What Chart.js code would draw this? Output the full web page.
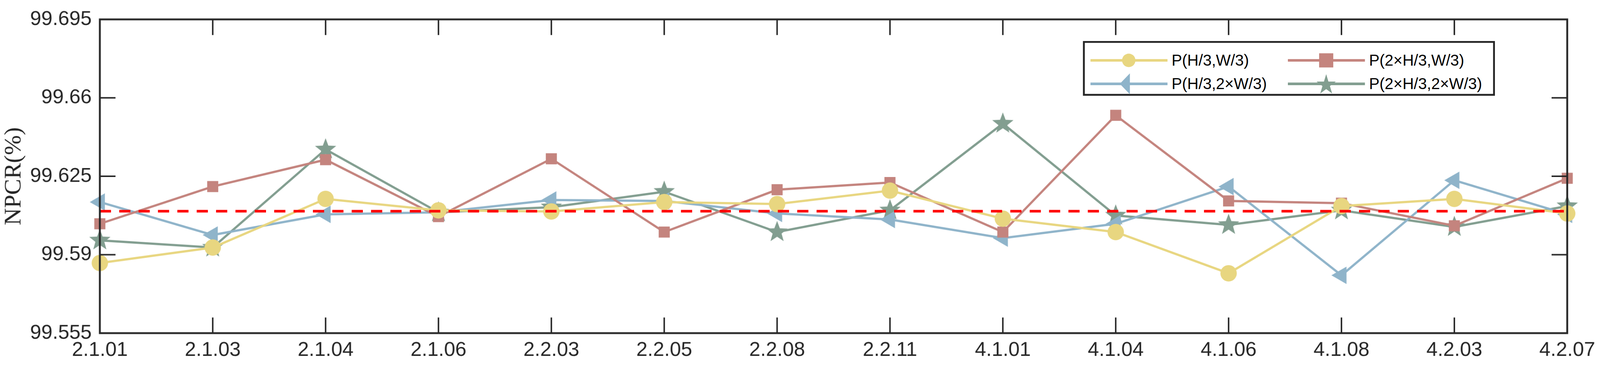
<!DOCTYPE html>
<html><head><meta charset="utf-8">
<script src="https://cdn.jsdelivr.net/npm/chart.js@4"></script>
<style>
html,body{margin:0;padding:0;background:#fff;overflow:hidden}
#wrap{position:relative;width:4295px;height:993px;transform-origin:0 0}
#c{width:4295px;height:993px;display:block}
#legend{position:absolute;left:2907px;top:110px;width:1096px;height:137px;border:5px solid #262626;background:#fff;font-family:"Liberation Sans Narrow","Liberation Sans",Arial,sans-serif;font-size:42px;color:#000}
.it{position:absolute;display:flex;align-items:center;height:60px;white-space:nowrap}
.it svg{margin-right:8px}
</style></head><body>
<div id="wrap"><canvas id="c" width="4295" height="993"></canvas>
<div id="legend"></div></div>
<script>
const categories=["2.1.01","2.1.03","2.1.04","2.1.06","2.2.03","2.2.05","2.2.08","2.2.11","4.1.01","4.1.04","4.1.06","4.1.08","4.2.03","4.2.07"];
const yTickLabels=["99.555","99.59","99.625","99.66","99.695"];
const seriesNames=["P(H/3,W/3)","P(2\u00d7H/3,W/3)","P(H/3,2\u00d7W/3)","P(2\u00d7H/3,2\u00d7W/3)"];
const pHW=[99.5863,99.5932,99.6149,99.6098,99.6093,99.6135,99.6126,99.6186,99.6061,99.6001,99.5817,99.6117,99.6149,99.6084];
const p2HW=[99.6038,99.6204,99.6324,99.6070,99.6328,99.6001,99.6190,99.6222,99.6001,99.6522,99.6140,99.6130,99.6029,99.6241];
const pH2W=[99.6135,99.5988,99.6080,99.6089,99.6144,99.6140,99.6084,99.6057,99.5974,99.6038,99.6204,99.5808,99.6232,99.6080];
const p2H2W=[99.5964,99.5932,99.6370,99.6089,99.6112,99.6181,99.6001,99.6098,99.6485,99.6075,99.6033,99.6098,99.6024,99.6117];
const ideal=99.6094;
const colors=["#E8D680","#C4847E","#8FB4CA","#829E90"];

const sc=Math.min(1,window.innerWidth/4295,window.innerHeight/993);
if(sc<0.999)document.getElementById('wrap').style.transform='scale('+sc+')';

function starImg(r,col){const c=document.createElement('canvas');c.width=c.height=r*2+2;const g=c.getContext('2d');g.fillStyle=col;g.beginPath();
for(let i=0;i<10;i++){const a=-Math.PI/2+i*Math.PI/5;const rr=i%2?r*0.42:r;g.lineTo(r+1+rr*Math.cos(a),r+1+rr*Math.sin(a));}g.closePath();g.fill();return c;}
const star=starImg(30,colors[3]);

const ds=(label,data,col,style,rad,rot)=>({label,data,borderColor:col,backgroundColor:col,pointBackgroundColor:col,pointBorderColor:col,borderWidth:6,pointStyle:style,pointRadius:rad,pointRotation:rot||0,pointBorderWidth:0,tension:0});
const inTicks={id:'inTicks',afterDraw(ch){const g=ch.ctx,a=ch.chartArea,x=ch.scales.x,y=ch.scales.y;g.save();g.strokeStyle='#262626';g.lineWidth=4;
g.beginPath();x.ticks.forEach((t,i)=>{const px=x.getPixelForTick(i);g.moveTo(px,a.bottom);g.lineTo(px,a.bottom-42);g.moveTo(px,a.top);g.lineTo(px,a.top+42);});
y.ticks.forEach((t,i)=>{const py=y.getPixelForTick(i);g.moveTo(a.left,py);g.lineTo(a.left+42,py);g.moveTo(a.right,py);g.lineTo(a.right-42,py);});g.stroke();
g.lineWidth=5;g.strokeRect(a.left,a.top,a.right-a.left,a.bottom-a.top);g.restore();}};
new Chart(document.getElementById('c'),{type:'line',data:{labels:categories,datasets:[
ds(seriesNames[0],pHW,colors[0],'circle',22),
ds(seriesNames[1],p2HW,colors[1],'rect',21),
ds(seriesNames[2],pH2W,colors[2],'triangle',27,-90),
ds(seriesNames[3],p2H2W,colors[3],star,30),
{label:'ideal',data:categories.map(()=>ideal),borderColor:'#FF0000',borderWidth:7,borderDash:[30,22],pointRadius:0,order:-1}
]},options:{responsive:false,devicePixelRatio:1,animation:false,layout:{padding:{top:52,right:88,left:0,bottom:0}},
plugins:{legend:{display:false},tooltip:{enabled:false}},
scales:{x:{offset:false,grid:{display:false},border:{display:false},ticks:{color:'#262626',font:{family:'Liberation Sans',size:54},padding:6,maxRotation:0,autoSkip:false},afterFit(s){s.height=99;}},
y:{min:99.555,max:99.695,grid:{display:false},border:{display:false},afterBuildTicks(s){s.ticks=yTickLabels.map(v=>({value:+v}));},
ticks:{color:'#262626',font:{family:'Liberation Sans',size:54},padding:14,callback:(v,i)=>yTickLabels[i]},
title:{display:true,text:'NPCR(%)',color:'#262626',font:{family:'Liberation Serif',size:64},padding:0},afterFit(s){s.width=268;}}}},plugins:[inTicks]});

const L=document.getElementById('legend');
const mk=[
'<circle cx="40" cy="30" r="18" fill="'+colors[0]+'"/>',
'<rect x="21" y="11" width="38" height="38" fill="'+colors[1]+'"/>',
'<polygon points="16,30 43,2 43,58" fill="'+colors[2]+'"/>',
'<polygon points="40,2 46,22 66,22 50,34 56,54 40,42 24,54 30,34 14,22 34,22" fill="'+colors[3]+'" transform="translate(0,2)"/>'];
const pos=[[15,17],[545,17],[15,80],[545,80]];
pos.forEach((p,i)=>{const d=document.createElement('div');d.className='it';d.style.left=p[0]+'px';d.style.top=p[1]+'px';
d.innerHTML='<svg width="210" height="60"><line x1="0" y1="30" x2="207" y2="30" stroke="'+colors[i]+'" stroke-width="7"/><g transform="translate(63,0)">'+mk[i]+'</g></svg><span>'+seriesNames[i]+'</span>';L.appendChild(d);});
</script></body></html>
